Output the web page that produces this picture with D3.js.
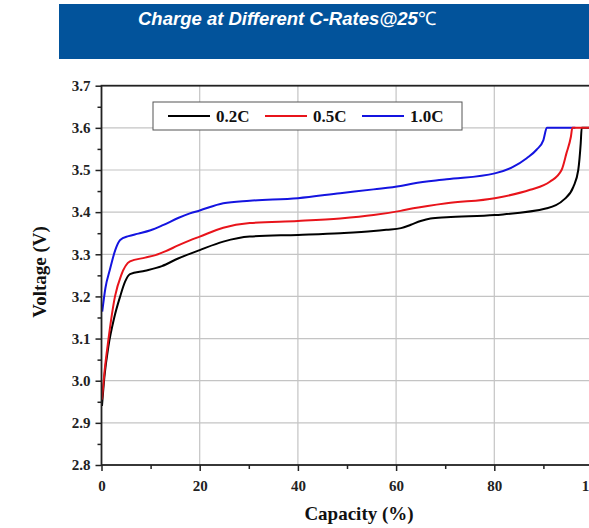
<!DOCTYPE html>
<html>
<head>
<meta charset="utf-8">
<script src="https://cdn.jsdelivr.net/npm/d3@7"></script>
<style>
  body { margin: 0; background: #fff; }
  svg { display: block; }
</style>
</head>
<body>
<svg></svg>
<script>
let width = 589;
let height = 528;

// series names and colours
let seriesNames = ["0.2C", "0.5C", "1.0C"];
let seriesColors = ["#000000", "#e8141b", "#1414e0"];

// capacity (%) and voltage (V)
let cap02 = [0.1, 0.6, 1.4, 2.6, 3.8, 4.8, 5.8, 8.9, 12.3, 15.6, 20, 24.8, 30.2, 40, 48.6, 55.4, 58, 61, 63, 65, 67, 70.3, 80.1, 90.7, 94.1, 96.1, 97.1, 97.6, 97.8, 100];
let volt02 = [2.94, 3.01, 3.081, 3.15, 3.2, 3.235, 3.253, 3.261, 3.272, 3.29, 3.31, 3.33, 3.342, 3.346, 3.35, 3.355, 3.358, 3.362, 3.37, 3.379, 3.385, 3.388, 3.393, 3.409, 3.429, 3.46, 3.5, 3.563, 3.6, 3.6];

let cap05 = [0.1, 0.6, 1.4, 2.75, 4, 5.8, 8.9, 11, 13, 15.6, 18, 20, 24.8, 30.2, 40, 48.6, 55.4, 60.9, 63.5, 70.3, 80.1, 87.3, 91.3, 93.7, 94.7, 95.6, 95.9, 100];
let volt05 = [2.955, 3.02, 3.097, 3.2, 3.25, 3.283, 3.292, 3.298, 3.307, 3.321, 3.333, 3.342, 3.363, 3.374, 3.379, 3.385, 3.393, 3.403, 3.409, 3.421, 3.433, 3.453, 3.472, 3.5, 3.54, 3.579, 3.6, 3.6];

let cap10 = [0.15, 0.8, 1.7, 2.8, 3.8, 5.5, 7.5, 10, 12.5, 15.6, 18, 20, 24.8, 30.2, 40, 48.6, 55.4, 60.9, 63.5, 70.3, 80.1, 83.9, 86.6, 88.6, 90, 90.7, 96.5];
let volt10 = [3.164, 3.22, 3.263, 3.31, 3.334, 3.343, 3.349, 3.357, 3.369, 3.386, 3.397, 3.404, 3.421, 3.427, 3.433, 3.445, 3.454, 3.462, 3.468, 3.478, 3.492, 3.508, 3.528, 3.548, 3.571, 3.6, 3.6];

let xTicks = [0, 20, 40, 60, 80, 100];
let yTicks = [2.8, 2.9, 3.0, 3.1, 3.2, 3.3, 3.4, 3.5, 3.6, 3.7];

let titleText = "Charge at Different C-Rates@25";
let xLabel = "Capacity (%)";
let yLabel = "Voltage (V)";

let svg = d3.select("svg").attr("width", width).attr("height", height);

let serif = "'Liberation Serif', 'Times New Roman', serif";

// banner
svg.append("rect")
  .attr("x", 59).attr("y", 4)
  .attr("width", width - 59).attr("height", 55)
  .attr("fill", "#02539b");

let title = svg.append("text")
  .attr("x", 138).attr("y", 25)
  .attr("fill", "#fff")
  .style("font-family", "'Liberation Sans', Arial, sans-serif")
  .style("font-size", "18.5px")
  .style("font-weight", "bold")
  .style("font-style", "italic")
  .text(titleText);
title.append("tspan")
  .style("font-weight", "normal")
  .style("font-style", "normal")
  .text("℃");

// scales
let xScale = d3.scaleLinear().domain([0, 100]).range([101.5, 592.5]);
let yScale = d3.scaleLinear().domain([2.8, 3.7]).range([465, 85.7]);

// grid
svg.append("g")
  .selectAll("line")
  .data([20, 40, 60, 80])
  .enter()
  .append("line")
  .attr("x1", (d) => xScale(d)).attr("x2", (d) => xScale(d))
  .attr("y1", yScale(3.7)).attr("y2", yScale(2.8))
  .attr("stroke", "#c4c4c4").attr("stroke-width", 1.2);

svg.append("g")
  .selectAll("line")
  .data(yTicks.slice(1, -1))
  .enter()
  .append("line")
  .attr("x1", xScale(0)).attr("x2", xScale(100))
  .attr("y1", (d) => yScale(d)).attr("y2", (d) => yScale(d))
  .attr("stroke", "#c4c4c4").attr("stroke-width", 1.2);

// curves
let allSeries = [
  { cap: cap02, volt: volt02 },
  { cap: cap05, volt: volt05 },
  { cap: cap10, volt: volt10 },
];

let line = d3.line()
  .x((d) => xScale(d[0]))
  .y((d) => yScale(d[1]))
  .curve(d3.curveMonotoneX);

// draw 1.0C first, then 0.2C, then 0.5C on top
[2, 0, 1].forEach((i) => {
  let pts = allSeries[i].cap.map((c, j) => [c, allSeries[i].volt[j]]);
  svg.append("path")
    .attr("d", line(pts))
    .attr("fill", "none")
    .attr("stroke", seriesColors[i])
    .attr("stroke-width", 2);
});

// axes
let xAxis = d3.axisBottom(xScale).tickValues(xTicks).tickSize(6).tickFormat(d3.format("d"));
let xMinor = d3.axisBottom(xScale).tickValues([10, 30, 50, 70, 90]).tickSize(4).tickFormat("");
let yAxis = d3.axisLeft(yScale).tickValues(yTicks).tickSize(6).tickFormat(d3.format(".1f"));
let yMinor = d3.axisLeft(yScale)
  .tickValues([2.85, 2.95, 3.05, 3.15, 3.25, 3.35, 3.45, 3.55, 3.65])
  .tickSize(4).tickFormat("");

function styleAxis(g) {
  g.select(".domain").remove();
  g.selectAll("line").attr("stroke", "#222").attr("stroke-width", 1.5);
  g.selectAll("text")
    .attr("fill", "#222")
    .style("font-family", serif)
    .style("font-size", "15px")
    .style("font-weight", "bold");
}

svg.append("g")
  .attr("id", "x-axis")
  .attr("transform", `translate(0, ${yScale(2.8)})`)
  .call(xAxis)
  .call(styleAxis)
  .call((g) => g.selectAll("text").attr("dy", "1.15em"));

svg.append("g")
  .attr("transform", `translate(0, ${yScale(2.8)})`)
  .call(xMinor)
  .call(styleAxis);

svg.append("g")
  .attr("id", "y-axis")
  .attr("transform", `translate(${xScale(0)}, 0)`)
  .call(yAxis)
  .call(styleAxis)
  .call((g) => g.selectAll("text").attr("x", -11));

svg.append("g")
  .attr("transform", `translate(${xScale(0)}, 0)`)
  .call(yMinor)
  .call(styleAxis);

// frame
svg.append("rect")
  .attr("x", xScale(0)).attr("y", yScale(3.7))
  .attr("width", xScale(100) - xScale(0))
  .attr("height", yScale(2.8) - yScale(3.7))
  .attr("fill", "none")
  .attr("stroke", "#222").attr("stroke-width", 1.8);

// axis labels
svg.append("text")
  .attr("x", 359).attr("y", 520)
  .attr("text-anchor", "middle")
  .attr("fill", "#111")
  .style("font-family", serif)
  .style("font-size", "19px")
  .style("font-weight", "bold")
  .text(xLabel);

svg.append("text")
  .attr("transform", "rotate(-90)")
  .attr("x", -272).attr("y", 46)
  .attr("text-anchor", "middle")
  .attr("fill", "#111")
  .style("font-family", serif)
  .style("font-size", "19px")
  .style("font-weight", "bold")
  .text(yLabel);

// legend
let legend = svg.append("g");
legend.append("rect")
  .attr("x", 153).attr("y", 102)
  .attr("width", 309).attr("height", 28)
  .attr("fill", "#fff")
  .attr("stroke", "#555").attr("stroke-width", 1);

let legendX = [168, 265, 362];
seriesNames.forEach((name, i) => {
  legend.append("line")
    .attr("x1", legendX[i]).attr("x2", legendX[i] + 42)
    .attr("y1", 116).attr("y2", 116)
    .attr("stroke", seriesColors[i]).attr("stroke-width", 2);
  legend.append("text")
    .attr("x", legendX[i] + 48).attr("y", 122)
    .attr("fill", "#111")
    .style("font-family", serif)
    .style("font-size", "17px")
    .style("font-weight", "bold")
    .text(name);
});
</script>
</body>
</html>
